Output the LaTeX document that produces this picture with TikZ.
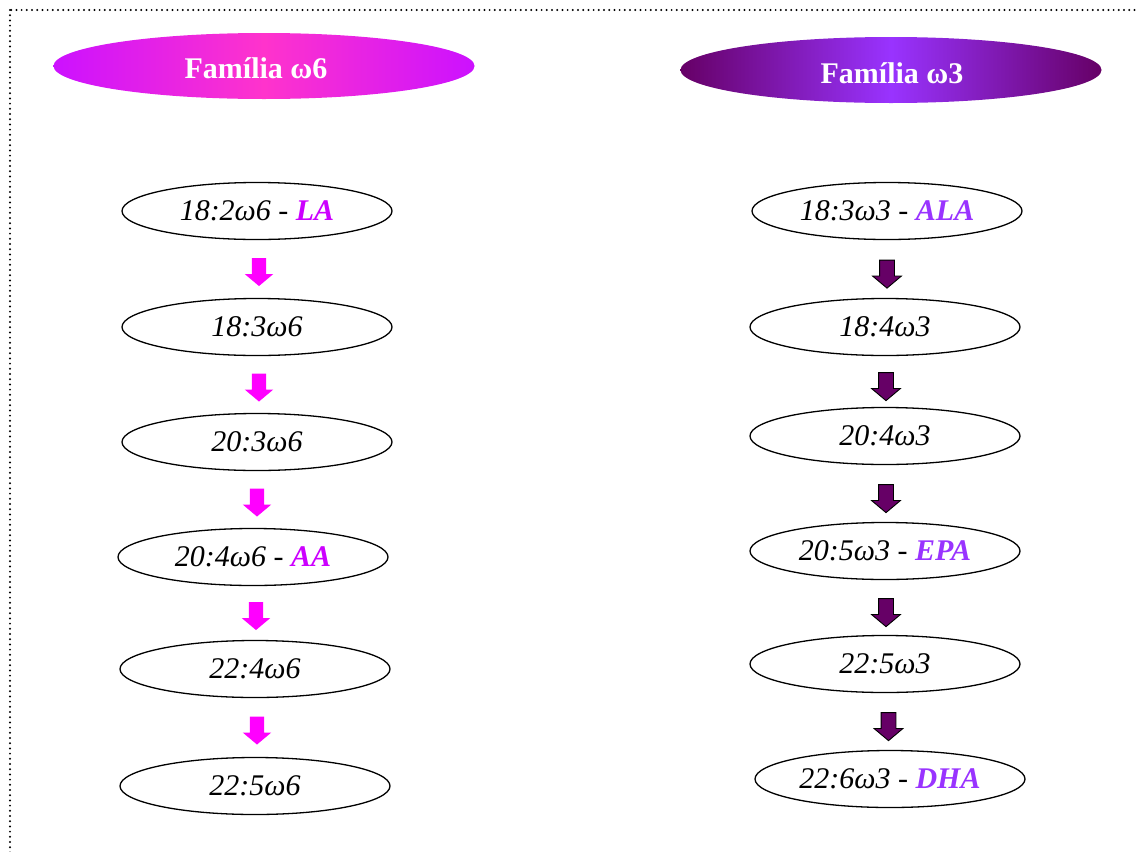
\documentclass[tikz,border=0pt]{standalone}
\usepackage{fontspec}
\setmainfont{Liberation Serif}
\usetikzlibrary{shapes.geometric,shapes.arrows,calc}

\definecolor{sixedge}{HTML}{CC11FF}
\definecolor{sixmid}{HTML}{FF33CC}
\definecolor{threeedge}{HTML}{660066}
\definecolor{threemid}{HTML}{9933FF}
\definecolor{sixacid}{HTML}{CC00FF}
\definecolor{threeacid}{HTML}{9933FF}
\definecolor{sixarrow}{HTML}{FF00FF}
\definecolor{threearrow}{HTML}{660066}

\tikzset{
  header/.style={ellipse, inner sep=0pt, minimum width=421pt, minimum height=66pt},
  headtext/.style={text=white, inner sep=0pt, font=\fontsize{30}{32}\selectfont\bfseries},
  acid/.style={ellipse, draw=black, line width=1.3pt, inner sep=0pt,
    minimum width=270pt, minimum height=57pt,
    font=\fontsize{30}{32}\selectfont\itshape},
  blockarrow/.style={single arrow, rotate=-90, inner sep=7pt,
    minimum height=28pt, minimum width=28pt,
    single arrow head extend=7pt, single arrow tip angle=100},
  sixstep/.style={blockarrow, fill=sixarrow, draw=none},
  threestep/.style={blockarrow, fill=threearrow, draw=black, line width=0.9pt},
}

\newcommand{\sixname}[1]{\textbf{\color{sixacid}#1}}
\newcommand{\threename}[1]{\textbf{\color{threeacid}#1}}

\begin{document}
\begin{tikzpicture}[x=1pt, y=-1pt]
  \useasboundingbox (0,0) rectangle (1136,852);
  \clip (0,0) rectangle (1136,852);

  % dotted frame, running off the right and bottom edges
  \draw[line width=2.2pt, line cap=round, dash pattern=on 0pt off 5.2pt] (10,10) rectangle (1150,870);

  % family headers
  \node[header, left color=sixedge, right color=sixedge, middle color=sixmid] (h6) at (264,66) {};
  \node[headtext] (h6t) at (256,68) {Família ω6};
  \node[header, left color=threeedge, right color=threeedge, middle color=threemid] (h3) at (891,70) {};
  \node[headtext] (h3t) at (892,73) {Família ω3};

  % omega-6 pathway
  \node[acid] (a1) at (257,211) {18:2ω6 - \sixname{LA}};
  \node[acid] (a2) at (257,327) {18:3ω6};
  \node[acid] (a3) at (257,442) {20:3ω6};
  \node[acid] (a4) at (253,557) {20:4ω6 - \sixname{AA}};
  \node[acid] (a5) at (255,669) {22:4ω6};
  \node[acid] (a6) at (255,786) {22:5ω6};

  % omega-3 pathway
  \node[acid] (b1) at (887,211) {18:3ω3 - \threename{ALA}};
  \node[acid] (b2) at (885,327) {18:4ω3};
  \node[acid] (b3) at (885,436) {20:4ω3};
  \node[acid] (b4) at (885,551) {20:5ω3 - \threename{EPA}};
  \node[acid] (b5) at (885,664) {22:5ω3};
  \node[acid] (b6) at (890,779) {22:6ω3 - \threename{DHA}};

  % conversion steps
  \foreach \p/\n [count=\i] in {a1/a2,a2/a3,a3/a4,a4/a5,a5/a6}
    \node[sixstep] (s\i) at ($(\p.south)!0.5!(\n.north) + (2,0)$) {};
  \foreach \p/\n [count=\i] in {b1/b2,b2/b3,b3/b4,b4/b5,b5/b6}
    \node[threestep] (t\i) at ($(\p.south)!0.5!(\n.north) + (1,2)$) {};
\end{tikzpicture}
\end{document}
